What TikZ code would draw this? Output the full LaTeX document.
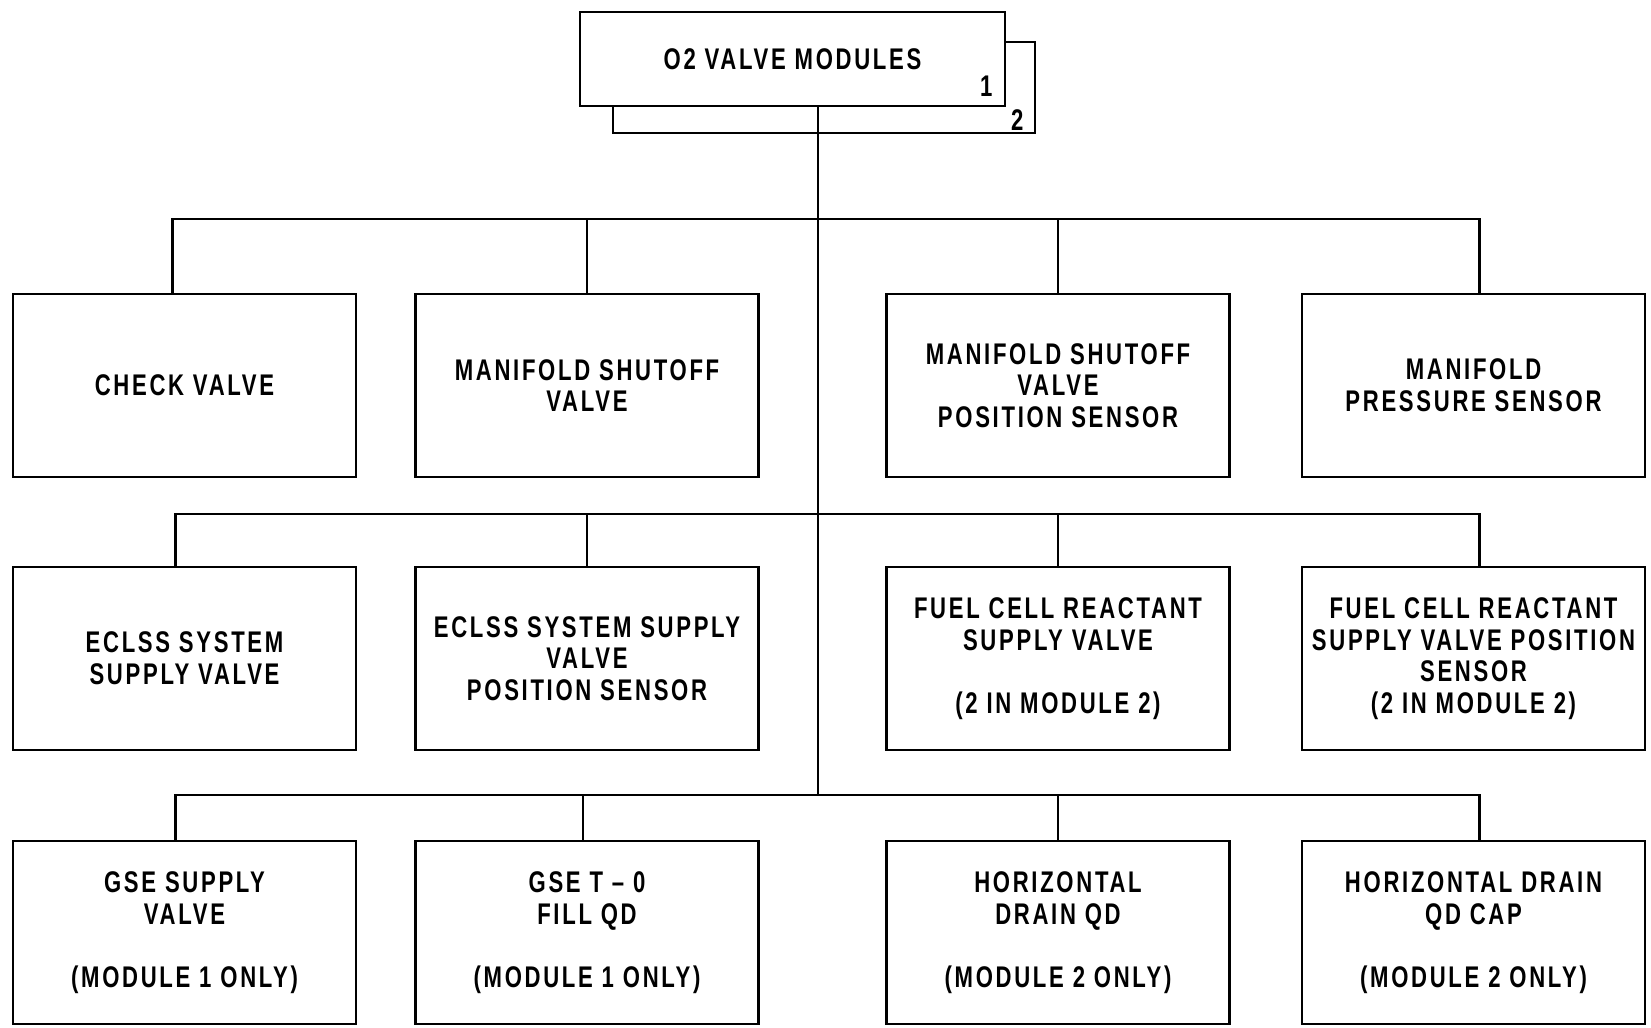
\documentclass[tikz,border=0pt]{standalone}
\usepackage{fontspec}
\setmainfont{Liberation Sans}[FakeStretch=0.74,LetterSpace=9]
\begin{document}
\begin{tikzpicture}[
		scale=1.0,
		unit/.style={draw, line width=0.75pt, fill=white, minimum width=3.43cm,
			minimum height=1.83cm, inner sep=1pt, align=center,
			font=\bfseries\fontsize{8.5}{9}\selectfont},
		module/.style={draw, line width=0.75pt, fill=white, minimum width=4.25cm,
			minimum height=0.94cm, inner sep=1pt,
			font=\bfseries\fontsize{8.5}{9}\selectfont},
		tag/.style={inner sep=0pt, font=\bfseries\fontsize{8.5}{9}\selectfont},
		link/.style={line width=0.6pt},
	]
	\useasboundingbox (0,0) rectangle (16.51,-10.27);

	% ---------- top: the two stacked module boxes ----------
	\node[module, minimum width=4.22cm, minimum height=0.91cm] (mod2) at (8.24,-0.875) {};
	\node[module] (mod1) at (7.925,-0.59) {O2 VALVE MODULES};
	\node[tag, anchor=south east] (one) at (9.93,-0.97) {1};
	\node[tag, anchor=south east] (two) at (10.24,-1.31) {2};

	% ---------- trunk and the three buses ----------
	\coordinate (trunk) at (8.18,-7.95);
	\coordinate (busA) at (8.18,-2.19);
	\coordinate (busB) at (8.18,-5.14);
	\coordinate (busC) at (8.18,-7.95);
	\draw[link] (mod1.south -| trunk) -- (trunk);

	% ---------- row 1 ----------
	\node[unit] (check)   at (1.845,-3.855) {CHECK VALVE};
	\node[unit] (msv)     at (5.87,-3.855)  {MANIFOLD SHUTOFF\\VALVE};
	\node[unit] (msvpos)  at (10.58,-3.855) {MANIFOLD SHUTOFF\\VALVE\\POSITION SENSOR};
	\node[unit] (press)   at (14.735,-3.855) {MANIFOLD\\PRESSURE SENSOR};

	\draw[link] ([xshift=-1.2mm]check.north) |- ([xshift=0.6mm]press.north |- busA)
		-- ([xshift=0.6mm]press.north);
	\draw[link] (msv.north) -- (msv.north |- busA);
	\draw[link] (msvpos.north) -- (msvpos.north |- busA);

	% ---------- row 2 ----------
	\node[unit] (eclss)    at (1.845,-6.585) {ECLSS SYSTEM\\SUPPLY VALVE};
	\node[unit] (eclsspos) at (5.87,-6.585)  {ECLSS SYSTEM SUPPLY\\VALVE\\POSITION SENSOR};
	\node[unit] (fcr)      at (10.58,-6.585) {FUEL CELL REACTANT\\SUPPLY VALVE\\[9pt](2 IN MODULE 2)};
	\node[unit] (fcrpos)   at (14.735,-6.585) {FUEL CELL REACTANT\\SUPPLY VALVE POSITION\\SENSOR\\(2 IN MODULE 2)};

	\draw[link] ([xshift=-0.9mm]eclss.north) |- ([xshift=0.6mm]fcrpos.north |- busB)
		-- ([xshift=0.6mm]fcrpos.north);
	\draw[link] (eclsspos.north) -- (eclsspos.north |- busB);
	\draw[link] (fcr.north) -- (fcr.north |- busB);

	% ---------- row 3 ----------
	\node[unit] (gse)    at (1.845,-9.325) {GSE SUPPLY\\VALVE\\[9pt](MODULE 1 ONLY)};
	\node[unit] (fillqd) at (5.87,-9.325)  {GSE T -- 0\\FILL QD\\[9pt](MODULE 1 ONLY)};
	\node[unit] (drain)  at (10.58,-9.325) {HORIZONTAL\\DRAIN QD\\[9pt](MODULE 2 ONLY)};
	\node[unit] (cap)    at (14.735,-9.325) {HORIZONTAL DRAIN\\QD CAP\\[9pt](MODULE 2 ONLY)};

	\draw[link] ([xshift=-0.9mm]gse.north) |- ([xshift=0.6mm]cap.north |- busC)
		-- ([xshift=0.6mm]cap.north);
	\draw[link] ([xshift=-0.4mm]fillqd.north) -- ([xshift=-0.4mm]fillqd.north |- busC);
	\draw[link] (drain.north) -- (drain.north |- busC);

\end{tikzpicture}
\end{document}
